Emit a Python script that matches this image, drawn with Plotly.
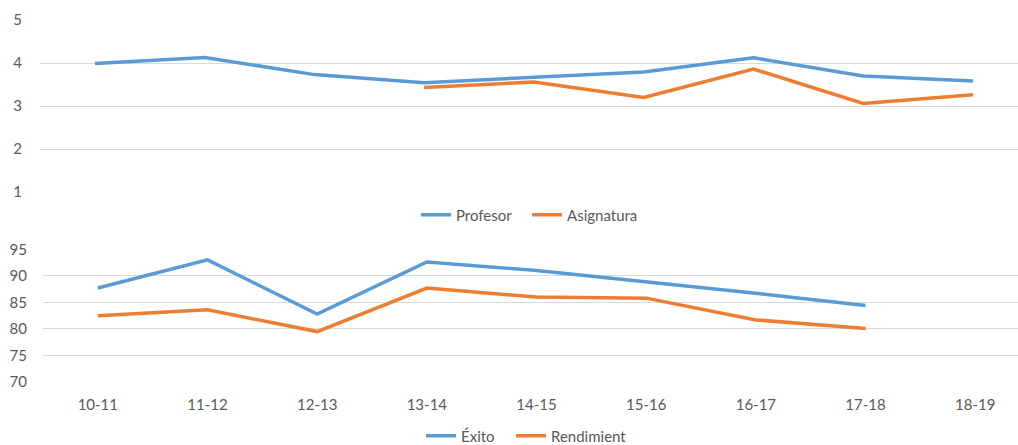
import plotly.graph_objects as go

# Academic years on the shared category axis
years = ["10-11", "11-12", "12-13", "13-14", "14-15", "15-16", "16-17", "17-18", "18-19"]

# Survey ratings (1-5 scale)
profesor = [3.99, 4.13, 3.73, 3.54, 3.67, 3.79, 4.12, 3.70, 3.58]
asignatura = [None, None, None, 3.43, 3.56, 3.20, 3.86, 3.06, 3.26]

# Success / performance rates (%)
exito = [87.7, 93.0, 82.8, 92.6, 91.0, 88.9, 86.7, 84.4, None]
rendimiento = [82.5, 83.6, 79.5, 87.7, 86.0, 85.8, 81.7, 80.1, None]

BLUE = "#5B9BD5"
ORANGE = "#ED7D31"
GRID = "#D9D9D9"
TEXT = "#595959"
FONT = "Lato"

W, H = 1018, 445

fig = go.Figure()

fig.add_trace(go.Scatter(x=years, y=profesor, name="Profesor", mode="lines",
                         line=dict(color=BLUE, width=3.5), xaxis="x", yaxis="y",
                         legend="legend", legendwidth=66))
fig.add_trace(go.Scatter(x=years, y=asignatura, name="Asignatura", mode="lines",
                         line=dict(color=ORANGE, width=3.5), xaxis="x", yaxis="y",
                         legend="legend"))
fig.add_trace(go.Scatter(x=years, y=exito, name="Éxito", mode="lines",
                         line=dict(color=BLUE, width=3.5), xaxis="x2", yaxis="y2",
                         legend="legend2", legendwidth=45))
fig.add_trace(go.Scatter(x=years, y=rendimiento, name="Rendimient", mode="lines",
                         line=dict(color=ORANGE, width=3.5), xaxis="x2", yaxis="y2",
                         legend="legend2"))

def px_x(p):
    return p / W

def px_y(p):
    return 1 - p / H

axis_font = dict(family=FONT, size=15, color=TEXT)

fig.update_layout(
    width=W, height=H,
    margin=dict(l=0, r=0, t=0, b=0, autoexpand=False),
    paper_bgcolor="white", plot_bgcolor="white",
    font=axis_font,
    showlegend=True,
    xaxis=dict(domain=[px_x(40), 1], range=[-0.5, 8.41], type="category",
               showticklabels=False, showgrid=False, zeroline=False,
               showline=False, anchor="y", fixedrange=True),
    yaxis=dict(domain=[px_y(192), px_y(20)], range=[1, 5], dtick=1,
               showgrid=True, gridcolor=GRID, gridwidth=1.3, zeroline=False,
               showline=False, ticks="outside", ticklen=14, tickcolor="rgba(0,0,0,0)",
               tickfont=axis_font, anchor="x", fixedrange=True),
    xaxis2=dict(domain=[px_x(43), 1], range=[-0.5, 8.39], type="category",
                showgrid=False, zeroline=False, showline=False,
                ticks="outside", ticklen=9, tickcolor="rgba(0,0,0,0)",
                tickfont=axis_font, anchor="y2", fixedrange=True),
    yaxis2=dict(domain=[px_y(382), px_y(249.3)], range=[70, 95], dtick=5,
                showgrid=True, gridcolor=GRID, gridwidth=1.3, zeroline=False,
                showline=False, ticks="outside", ticklen=12, tickcolor="rgba(0,0,0,0)",
                tickfont=axis_font, anchor="x2", fixedrange=True),
    legend=dict(orientation="h", x=px_x(416), y=px_y(215), xanchor="left",
                yanchor="middle", font=axis_font, bgcolor="rgba(0,0,0,0)",
                itemwidth=30, tracegroupgap=0),
    legend2=dict(orientation="h", x=px_x(421), y=px_y(436), xanchor="left",
                 yanchor="middle", font=axis_font, bgcolor="rgba(0,0,0,0)",
                 itemwidth=30, tracegroupgap=0),
)

fig.write_html("out.html", config={"displayModeBar": False})
